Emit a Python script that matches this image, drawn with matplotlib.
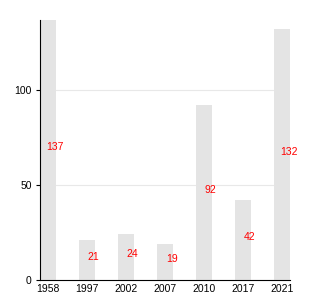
import numpy as np
import matplotlib.pyplot as plt

years = ["1958", "1997", "2002", "2007", "2010", "2017", "2021"]
counts = [137, 21, 24, 19, 92, 42, 132]

plt.rcParams['font.family'] = ['Liberation Sans', 'DejaVu Sans']

fig = plt.figure(figsize=(3.3, 3.0), dpi=100)
ax = fig.add_axes([40 / 330, 20 / 300, 250 / 330, 260 / 300])

x = np.arange(len(years))
ax.bar(x, counts, width=0.4, color="#e4e4e4", zorder=2)

for xi, v in zip(x, counts):
    ax.text(xi + 0.17, v / 2 + 1.5, str(v), color="red", fontsize=7.5,
            ha="center", va="center", zorder=3)

ax.set_xlim(-0.2, len(years) - 0.8)
ax.set_ylim(0, 137)
ax.set_yticks([0, 50, 100])
ax.set_xticks(x)
ax.set_xticklabels(years)
ax.yaxis.grid(True, color="#e8e8e8", linewidth=0.8, zorder=0)
ax.set_axisbelow(True)

for s in ["top", "right"]:
    ax.spines[s].set_visible(False)
ax.tick_params(axis="x", length=0, labelsize=7.5, pad=3)
ax.tick_params(axis="y", length=3, labelsize=7.5, pad=3)

fig.savefig("out.png", dpi=100)
